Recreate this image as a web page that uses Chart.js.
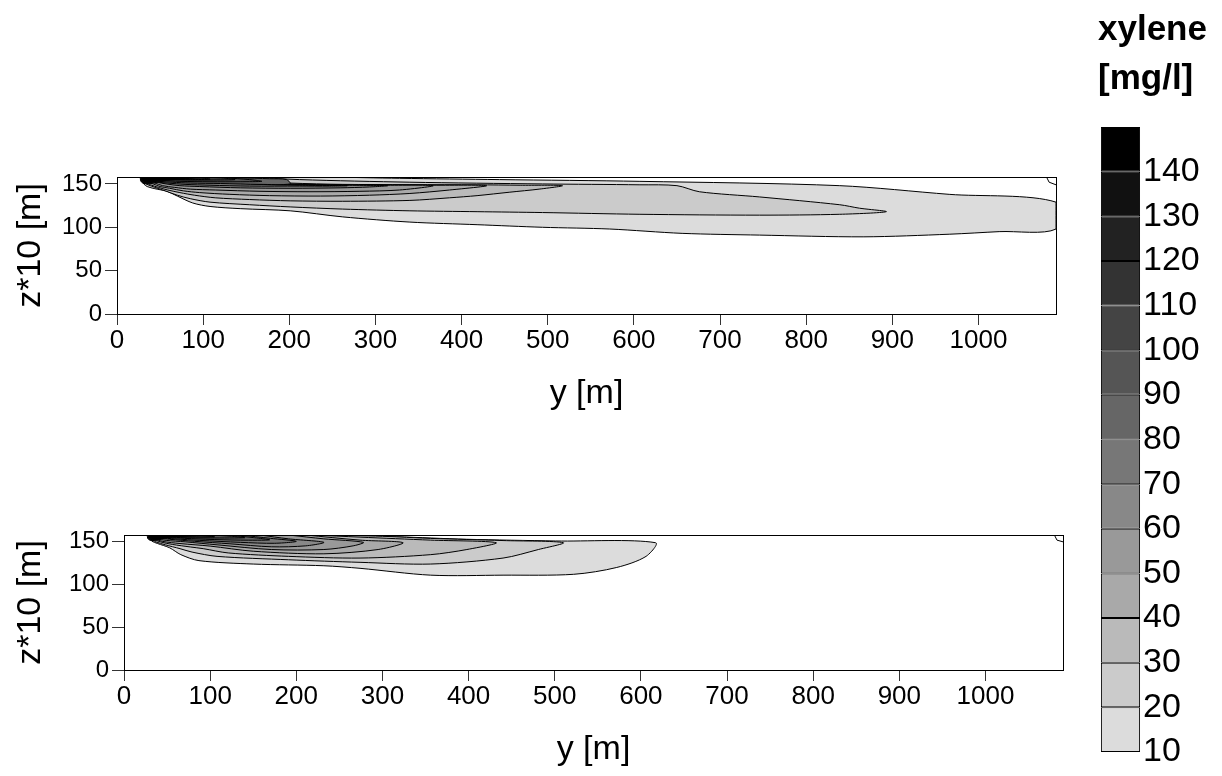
<!DOCTYPE html>
<html>
<head>
<meta charset="utf-8">
<title>xylene</title>
<script src="https://cdn.jsdelivr.net/npm/chart.js@4.4.1/dist/chart.umd.min.js"></script>
<style>
  body { margin: 0; background: #fff; width: 1222px; height: 776px; overflow: hidden; position: relative; }
  .caja { position: absolute; }
</style>
</head>
<body>
<div class="caja" style="left:0;top:150px;width:1080px;height:270px"><canvas id="graf1"></canvas></div>
<div class="caja" style="left:0;top:505px;width:1090px;height:271px"><canvas id="graf2"></canvas></div>
<div class="caja" style="left:1087px;top:0;width:135px;height:776px"><canvas id="escala"></canvas></div>

<script>
// niveles de concentracion (mg/l) y ticks de los ejes
const niveles = [10, 20, 30, 40, 50, 60, 70, 80, 90, 100, 110, 120, 130, 140];
const ticksX = [0, 100, 200, 300, 400, 500, 600, 700, 800, 900, 1000];
const ticksZ = [0, 50, 100, 150];
const ticksEscala = [10, 20, 30, 40, 50, 60, 70, 80, 90, 100, 110, 120, 130, 140];

// contornos del panel superior, [y, z*10] recorriendo el borde de cada zona
const p1_10 = [[28,158],[29,153],[31,150],[35,147],[44,144.5],[58,141.5],[70,136],[88,128],[108,124],[143,121.5],[201,119],[262,112],[340,106],[418,103],[494,100],[572,98],[656,93],[746,91],[867,89],[966,92],[1024,95],[1090,98],[1090,129],[966,138],[839,148],[607,153],[444,155],[328,156.5],[247,158]];
const p1_20 = [[29,158],[31,152],[36,149],[44,146],[56,142],[70,137],[85,133],[108,129],[154,126],[201,123.5],[262,121],[340,119],[418,118],[494,117],[607,115],[746,114],[839,115],[893,118],[862,122],[839,126],[746,135],[676,141],[650,148],[607,149],[494,150],[340,152],[212,155],[154,158]];
const p1_30 = [[30,158],[34,152],[39,149],[48,146],[59,143],[73,140],[90,137],[114,134],[154,132],[201,130.5],[262,130],[340,131],[386,134],[418,136.5],[456,140.5],[490,144],[517,148],[468,148.5],[418,149],[262,149.5],[201,151],[154,153],[114,158]];
const p1_40 = [[31,158],[36,152],[42,150],[50,147],[61,145],[77,142],[96,140],[131,138],[177,136.5],[236,136],[293,137],[340,139],[386,143],[429,148],[363,148.5],[262,149],[201,150],[154,153],[108,158]];
const p1_50 = [[32,158],[37,153],[44,151],[53,148],[67,146],[85,144],[114,143],[166,141.5],[224,141],[282,141.5],[328,143],[367,148],[305,148.5],[236,149],[177,150],[137,155],[102,158]];
const p1_60 = [[34,158],[38,153],[46,152],[57,150],[73,148],[96,147],[143,145.5],[201,145],[259,145.5],[293,146.5],[314,148],[259,148.5],[201,149],[154,152],[125,155],[96,158]];
const p1_70 = [[35,158],[39,154],[48,152],[59,151],[79,149.5],[108,148.5],[154,147.5],[212,147.5],[247,147.5],[267,148],[212,148.5],[166,149.5],[131,152],[108,155],[90,158]];
const p1_80 = [[36,158],[41,155],[50,153],[64,152],[85,151],[120,150.5],[166,149.5],[201,150],[197,155],[177,156],[143,157],[96,158]];
const p1_90 = [[37,158],[43,155],[52,154],[73,153],[108,152.5],[143,152.5],[168,153],[154,155],[125,157],[90,158]];
const p1_100 = [[38,158],[46,156],[56,155],[79,154.5],[108,154.5],[137,155],[120,157],[90,157.5],[73,158]];
const p1_110 = [[38,158],[46,156.5],[61,155.5],[85,155],[108,155.5],[96,157],[73,157.6],[56,158]];
const p1_120 = [[27,158],[27.5,153.5],[30,151],[35,150],[42,151],[56,154],[79,156],[100,157.5],[110,158]];
const p1_130 = [[28,158],[28.5,154],[31,151.5],[36,151],[43,152.5],[60,155],[85,157],[100,158]];
const p1_140 = [[29,158],[29.5,154.5],[32,152.5],[37,152],[45,153.5],[65,156],[85,158]];
const p1_esquina = [[1079,158],[1082,152],[1090,149]];

// contornos del panel inferior
const p2_10 = [[28,158],[29,155],[32,151],[39,148],[53,143],[66,135],[87,128],[150,124],[232,122],[274,119],[356,111],[440,111],[522,112],[572,120],[606,133],[617,149],[501,151],[398,153],[316,156],[250,158]];
const p2_20 = [[29,158],[31,153.5],[37,150],[48,146.5],[65,142],[79,138],[108,133],[191,129],[274,126],[356,124],[440,131],[481,141],[510,149],[440,151.5],[356,154],[300,156.5],[230,158]];
const p2_30 = [[30,158],[34,153.5],[42,150],[56,147],[77,144],[92,142],[121,137],[191,133],[274,131],[356,135],[398,141],[432,149],[356,152],[274,155.5],[220,158]];
const p2_40 = [[31,158],[36,153.5],[45,150.5],[65,148],[100,145],[150,139],[232,136],[295,141],[324,149],[274,152],[211,158]];
const p2_50 = [[32,158],[38,154],[49,151.7],[71,150],[108,146.5],[171,141],[232,141],[266,145.3],[278,149.4],[232,153.5],[191,158]];
const p2_60 = [[34,158],[41,154.7],[53,153],[82,150.6],[123,147.7],[171,144.2],[211,145.3],[232,149.4],[191,153.5],[158,158]];
const p2_70 = [[36,158],[42,155],[59,153.5],[88,151.7],[135,149.4],[175,148.3],[200,150.6],[170,154.1],[135,158]];
const p2_80 = [[37,158],[44,155.5],[62,154.5],[95,153],[135,152],[169,152.3],[150,155],[120,158]];
const p2_90 = [[38,158],[46,156],[66,155],[100,154.5],[140,154.8],[125,156.5],[100,158]];
const p2_100 = [[39,158],[48,156.5],[70,156],[105,155.8],[95,157],[80,158]];
const p2_110 = [[40,158],[50,157],[75,156.8],[90,157.5],[70,158]];
const p2_120 = [[27,158],[27.5,154],[30,152],[35,151.5],[42,153],[55,156],[80,157.5],[90,158]];
const p2_130 = [[28,158],[28.5,154.5],[31,152.8],[36,152.4],[43,154],[60,156.5],[80,158]];
const p2_140 = [[29,158],[29.5,155],[32,153.5],[37,153],[45,155],[65,157.5],[75,158]];
const p2_esquina = [[1080,158],[1083,152],[1090,150]];

// escala de grises, del nivel 10 (claro) al 140 (negro)
const grises = ['#dcdcdc', '#cbcbcb', '#bababa', '#a9a9a9', '#999999', '#888888', '#777777',
                '#666666', '#555555', '#444444', '#333333', '#222222', '#111111', '#000000'];

const fuente = '"Liberation Sans", Arial, sans-serif';

// marco negro alrededor del area de la grafica
const marco = {
    id: 'marco',
    afterDatasetsDraw(chart) {
        const { ctx, chartArea: a } = chart;
        ctx.save();
        ctx.strokeStyle = '#000';
        ctx.lineWidth = 1;
        ctx.strokeRect(a.left + 0.5, a.top + 0.5, a.right - a.left, a.bottom - a.top);
        ctx.restore();
    }
};

function crearPanel(idCanvas, contornos, esquina, anchoEjeY, padding) {
    // cada zona se rellena con su gris; las mas oscuras quedan encima
    let datasets = contornos.map((poli, i) => ({
        data: poli.map(p => ({ x: p[0], y: p[1] })),
        backgroundColor: grises[i],
        borderColor: '#000',
        borderWidth: 1,
        pointRadius: 0,
        tension: 0.3,
        fill: 'shape',
        order: contornos.length - i + 1
    }));
    datasets.push({
        data: esquina.map(p => ({ x: p[0], y: p[1] })),
        borderColor: '#000',
        borderWidth: 1,
        pointRadius: 0,
        fill: false,
        order: 0
    });

    return new Chart(document.getElementById(idCanvas), {
        type: 'line',
        data: { datasets: datasets },
        options: {
            animation: false,
            responsive: true,
            maintainAspectRatio: false,
            layout: { padding: padding },
            plugins: { legend: { display: false }, tooltip: { enabled: false } },
            scales: {
                x: {
                    type: 'linear', min: 0, max: 1090,
                    afterBuildTicks: eje => { eje.ticks = ticksX.map(v => ({ value: v })); },
                    afterFit: eje => { eje.height = 106; },
                    grid: { drawOnChartArea: false, drawTicks: true, tickLength: 11, color: '#333' },
                    border: { color: '#000' },
                    ticks: { color: '#000', font: { family: fuente, size: 26 }, padding: 0, maxRotation: 0, autoSkip: false, callback: v => String(v) },
                    title: { display: true, text: 'y [m]', color: '#000', font: { family: fuente, size: 34 }, padding: { top: 0, bottom: 6 } }
                },
                y: {
                    type: 'linear', min: 0, max: 158,
                    afterBuildTicks: eje => { eje.ticks = ticksZ.map(v => ({ value: v })); },
                    afterFit: eje => { eje.width = anchoEjeY; },
                    grid: { drawOnChartArea: false, drawTicks: true, tickLength: 12, color: '#333' },
                    border: { color: '#000' },
                    ticks: { color: '#000', font: { family: fuente, size: 24 }, padding: 3, autoSkip: false, callback: v => String(v) },
                    title: { display: true, text: 'z*10 [m]', color: '#000', font: { family: fuente, size: 34 }, padding: { top: 10, bottom: 0 } }
                }
            }
        },
        plugins: [marco]
    });
}

crearPanel('graf1',
    [p1_10, p1_20, p1_30, p1_40, p1_50, p1_60, p1_70, p1_80, p1_90, p1_100, p1_110, p1_120, p1_130, p1_140],
    p1_esquina, 117, { top: 27, right: 24, left: 0, bottom: 0 });

crearPanel('graf2',
    [p2_10, p2_20, p2_30, p2_40, p2_50, p2_60, p2_70, p2_80, p2_90, p2_100, p2_110, p2_120, p2_130, p2_140],
    p2_esquina, 124, { top: 30, right: 27, left: 0, bottom: 0 });

// barra de colores con las clases de 10 en 10
new Chart(document.getElementById('escala'), {
    type: 'bar',
    data: {
        labels: [''],
        datasets: niveles.map((n, i) => ({
            data: [[n, n + 10]],
            backgroundColor: grises[i],
            borderColor: '#000',
            borderWidth: 1,
            borderSkipped: false,
            grouped: false,
            barPercentage: 0.87,
            categoryPercentage: 1
        }))
    },
    options: {
        animation: false,
        responsive: true,
        maintainAspectRatio: false,
        layout: { padding: { left: 11, right: 0, top: 0, bottom: 24 } },
        plugins: {
            legend: { display: false },
            tooltip: { enabled: false },
            title: {
                display: true,
                text: ['xylene', '[mg/l]'],
                align: 'start',
                color: '#000',
                font: { family: fuente, size: 35, weight: 'bold', lineHeight: 1.4 },
                padding: { top: 6, bottom: 23 }
            }
        },
        scales: {
            x: { display: false },
            y: {
                position: 'right', min: 10, max: 150,
                afterBuildTicks: eje => { eje.ticks = ticksEscala.map(v => ({ value: v })); },
                afterFit: eje => { eje.width = 79; },
                grid: { display: false, drawTicks: false },
                border: { display: false },
                ticks: { color: '#000', font: { family: fuente, size: 34 }, padding: 0, autoSkip: false, callback: v => String(v) }
            }
        }
    }
});
</script>
</body>
</html>
